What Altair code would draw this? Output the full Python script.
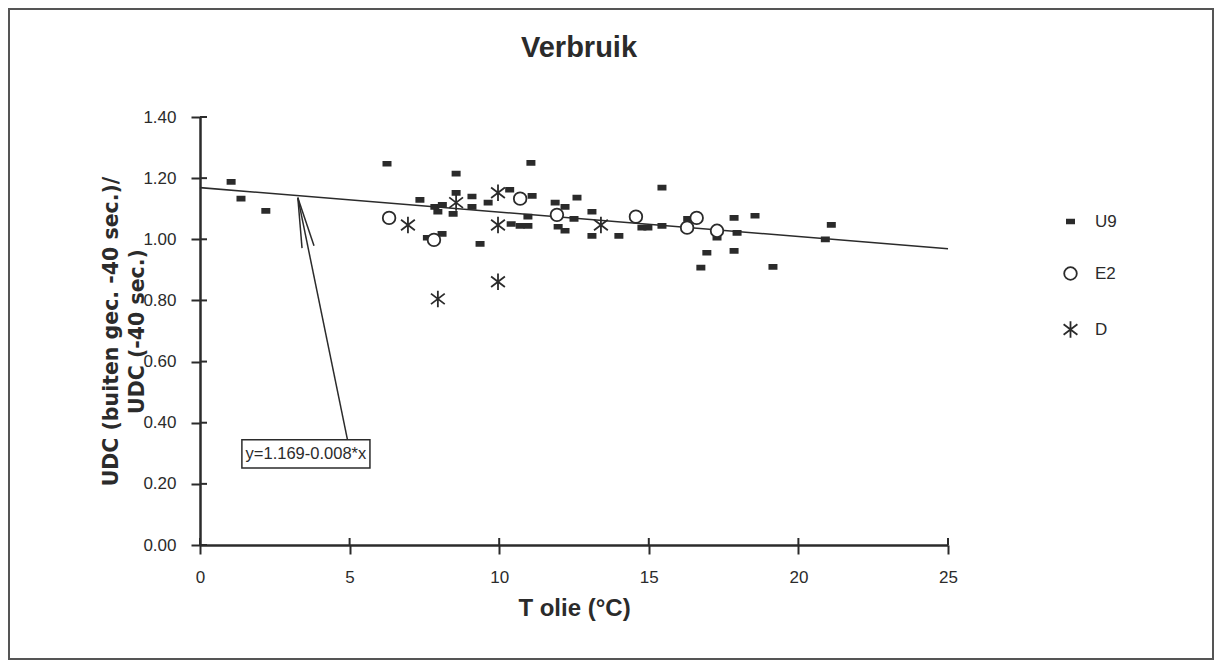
import altair as alt
import pandas as pd

# ---- data ----
u9_x = [1.04, 1.37, 2.2, 6.25, 7.35, 7.6, 7.85, 7.95, 8.1, 8.09, 8.56, 8.56, 8.46, 9.09, 9.09, 9.63, 9.36,
        10.35, 11.06, 11.1, 10.96, 10.4, 10.7, 10.96, 11.87, 12.2, 11.97, 12.2, 12.5, 12.6, 13.1, 13.1,
        14.0, 15.44, 14.77, 14.97, 15.44, 16.3, 17.28, 16.94, 16.74, 17.85, 18.55, 17.95, 17.85, 19.15,
        20.9, 21.1]
u9_y = [1.188, 1.133, 1.093, 1.247, 1.129, 1.005, 1.106, 1.09, 1.113, 1.018, 1.215, 1.152, 1.083, 1.14, 1.106,
        1.12, 0.985, 1.162, 1.25, 1.142, 1.074, 1.05, 1.044, 1.044, 1.12, 1.106, 1.041, 1.028, 1.067, 1.136,
        1.09, 1.011, 1.011, 1.169, 1.038, 1.038, 1.044, 1.067, 1.005, 0.956, 0.907, 1.07, 1.077, 1.021,
        0.962, 0.91, 1.0, 1.047]
e2_x = [6.32, 7.82, 10.7, 11.93, 14.57, 16.28, 16.6, 17.28]
e2_y = [1.07, 0.998, 1.133, 1.08, 1.074, 1.038, 1.07, 1.028]
d_x = [6.95, 7.95, 8.56, 9.96, 9.96, 9.96, 13.4]
d_y = [1.047, 0.805, 1.12, 1.152, 1.047, 0.861, 1.047]

series_names = ["U9", "E2", "D"]
fit_x = [0, 25]
fit_y = [1.169, 0.969]
fit_label = "y=1.169-0.008*x"

x_ticks = [0, 5, 10, 15, 20, 25]
y_ticks = [0.0, 0.2, 0.4, 0.6, 0.8, 1.0, 1.2, 1.4]

# annotation geometry (data units)
box_x = [1.40, 5.68]
box_y = [0.252, 0.344]
arrow_tip = [3.27, 1.136]
arrow_tail = [4.93, 0.344]
barb_l = [3.41, 0.971]
barb_r = [3.81, 0.979]

INK = "#2b2b2b"
FONT = "Liberation Sans"
W, H = 748, 428

rect_path = "M-0.48,-0.26H0.48V0.26H-0.48Z"
circle_path = "M-0.84,0A0.84,0.84 0 1,0 0.84,0A0.84,0.84 0 1,0 -0.84,0Z"
aster_path = "M0,-1.1V1.1M-0.92,-0.7L0.92,0.7M-0.92,0.7L0.92,-0.7"

pts = pd.concat([
    pd.DataFrame({"x": u9_x, "y": u9_y, "series": "U9"}),
    pd.DataFrame({"x": e2_x, "y": e2_y, "series": "E2"}),
    pd.DataFrame({"x": d_x, "y": d_y, "series": "D"}),
], ignore_index=True)
pts["order"] = pts["series"].map({"U9": 0, "E2": 1, "D": 2})

fit = pd.DataFrame({"x": fit_x, "y": fit_y})

xs = alt.Scale(domain=[0, 25], nice=False, zero=False)
ys = alt.Scale(domain=[0, 1.4], nice=False, zero=False)

x_axis = alt.Axis(values=x_ticks, format="d", title="T olie (°C)", grid=False, labelFlush=False,
                  labelPadding=15, titleX=W / 2, titleY=63, titleBaseline="middle",
                  titleFontSize=24)
y_axis = alt.Axis(values=y_ticks, format=".2f", grid=False,
                  title=["UDC (buiten gec. -40 sec.)/", "UDC (-40 sec.)"],
                  labelPadding=15, titleX=-89, titleY=H / 2, titleBaseline="middle",
                  titleAngle=-90, titleLineHeight=26, titleFont="DejaVu Sans", titleFontSize=20.5)

X = alt.X("x:Q", scale=xs, axis=x_axis)
Y = alt.Y("y:Q", scale=ys, axis=y_axis)

legend = alt.Legend(title=None, orient="none", legendX=862, legendY=96, padding=0,
                    labelFont=FONT, labelFontSize=17, labelColor=INK, labelOffset=16,
                    symbolSize=225, symbolStrokeWidth=1.8, symbolStrokeColor=INK,
                    rowPadding=33)

points = alt.Chart(pts).mark_point(size=225, strokeWidth=1.8, opacity=1).encode(
    x=X, y=Y,
    shape=alt.Shape("series:N", scale=alt.Scale(domain=series_names,
                                                  range=[rect_path, circle_path, aster_path]),
                    legend=legend),
    fill=alt.Fill("series:N", scale=alt.Scale(domain=series_names,
                                                range=[INK, "white", "transparent"]),
                  legend=legend),
    stroke=alt.Stroke("series:N", scale=alt.Scale(domain=series_names,
                                                    range=[INK, INK, INK]),
                      legend=legend),
    order=alt.Order("order:Q"),
)

fit_line = alt.Chart(fit).mark_line(color=INK, strokeWidth=1.6).encode(x=X, y=Y)

ann_box = alt.Chart(pd.DataFrame({"x": [box_x[0]], "x2": [box_x[1]], "y": [box_y[0]], "y2": [box_y[1]]})).mark_rect(
    fill="white", stroke=INK, strokeWidth=1.5).encode(x=X, x2="x2:Q", y=Y, y2="y2:Q")

ann_text = alt.Chart(pd.DataFrame({"x": [sum(box_x) / 2], "y": [sum(box_y) / 2], "t": [fit_label]})).mark_text(
    font=FONT, fontSize=16.5, color=INK, baseline="middle", align="center").encode(x=X, y=Y, text="t:N")

arrow = alt.Chart(pd.DataFrame({
    "x": [arrow_tip[0]] * 3,
    "y": [arrow_tip[1]] * 3,
    "x2": [arrow_tail[0], barb_l[0], barb_r[0]],
    "y2": [arrow_tail[1], barb_l[1], barb_r[1]],
})).mark_rule(color=INK, strokeWidth=1.5).encode(x=X, y=Y, x2="x2:Q", y2="y2:Q")

# inner halves of the crossing tick marks
ytick_in = alt.Chart(pd.DataFrame({"y": y_ticks})).mark_rule(color=INK, strokeWidth=2).encode(
    y=Y, x=alt.value(0), x2=alt.value(7))
xtick_in = alt.Chart(pd.DataFrame({"x": x_ticks})).mark_rule(color=INK, strokeWidth=2).encode(
    x=X, y=alt.value(H), y2=alt.value(H - 7))

frame = alt.Chart(pd.DataFrame({"a": [0]})).mark_rect(fill="transparent", stroke="#555", strokeWidth=2).encode(
    x=alt.value(9 - 200), x2=alt.value(1213 - 200), y=alt.value(9 - 117), y2=alt.value(659 - 117))

chart = alt.layer(frame, ytick_in, xtick_in, fit_line, ann_box, ann_text, arrow, points).properties(
    width=W, height=H,
    title=alt.TitleParams("Verbruik", font=FONT, fontSize=29, fontWeight="bold", color=INK,
                          anchor="middle", offset=-78, dx=5, baseline="alphabetic"),
    autosize=alt.AutoSizeParams(type="none"),
    padding={"left": 200, "top": 117, "right": 272, "bottom": 120},
    background="white",
).configure_view(stroke=None).configure_axis(
    domainColor=INK, domainWidth=2.5, tickColor=INK, tickWidth=2, tickSize=9,
    labelFont=FONT, labelFontSize=17, labelColor=INK,
    titleFont=FONT, titleFontSize=23, titleFontWeight="bold", titleColor=INK,
)

chart.save("out.html", embed_options={"renderer": "svg", "actions": False})
